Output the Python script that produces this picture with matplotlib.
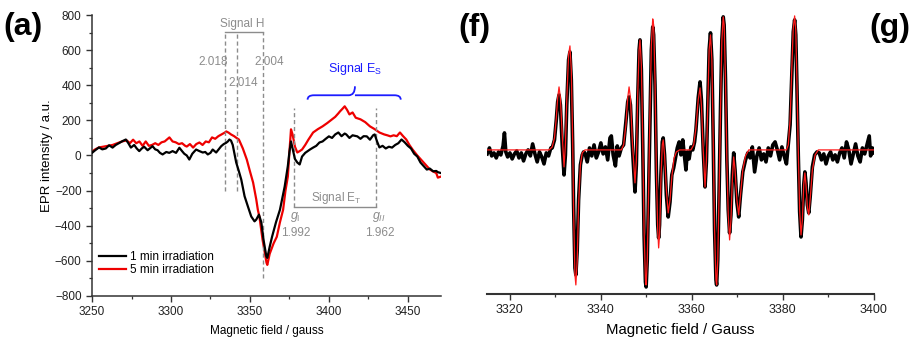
import matplotlib
matplotlib.use("Agg")
import matplotlib.pyplot as plt
from matplotlib.path import Path
from matplotlib.patches import PathPatch
from matplotlib.ticker import MultipleLocator

plt.rcParams['font.family'] = ['Liberation Sans', 'DejaVu Sans']
plt.rcParams['mathtext.fontset'] = 'custom'
plt.rcParams['mathtext.rm'] = 'Liberation Sans'
plt.rcParams['mathtext.it'] = 'Liberation Sans:italic'

#Panel (a) - EPR spectra after 1 and 5 min irradiation
field_1min = [3250, 3252, 3254.4, 3256.5, 3258.7, 3260.8, 3263, 3265, 3267, 3269.3, 3271.4, 3273, 3274.6, 3276.7,
              3278.3, 3279.9, 3281.5, 3283, 3285.2, 3288.3, 3290, 3291.5, 3293, 3294.7, 3297, 3298.9, 3301, 3303.2,
              3305.3, 3307, 3308.4, 3310, 3311.6, 3313.5, 3315.9, 3318, 3320.1, 3321.7, 3323.3, 3325, 3326.4, 3328.6,
              3330.2, 3331.8, 3333.4, 3334.9, 3336, 3337, 3338, 3339.1, 3341.3, 3343, 3344.5, 3346.6, 3348.7, 3350.8,
              3352.9, 3354, 3355.7, 3357.2, 3358.6, 3360.4, 3361, 3362.5, 3364, 3366.5, 3369, 3372, 3374, 3375, 3376,
              3377, 3378.5, 3380, 3381.5, 3383, 3385, 3388, 3390, 3392, 3394, 3396, 3398, 3400, 3402, 3404, 3406,
              3408, 3410, 3411, 3413, 3415, 3418, 3420, 3422, 3424, 3426, 3428, 3429, 3430.5, 3432, 3434, 3436, 3438,
              3440, 3442, 3444, 3446, 3448, 3450, 3452, 3454, 3456, 3458, 3460, 3462, 3464, 3466, 3468, 3469, 3471]
epr_1min = [15, 30, 46, 35, 40, 58, 45, 60, 70, 82, 91, 70, 45, 60,
            40, 25, 40, 50, 30, 53, 35, 30, 15, 6, 20, 15, 25, 15,
            44, 25, 10, 0, -23, 10, 34, 25, 17, 20, 6, 15, 34, 17,
            35, 53, 65, 72, 80, 91, 85, 60, -40, -90, -137, -232, -290, -347,
            -375, -365, -337, -380, -480, -575, -583, -520, -463, -380, -309, -177, -60, 20, 80,
            40, -20, -40, -51, -6, 15, 34, 45, 55, 74, 80, 95, 109, 100, 120, 131,
            110, 125, 120, 100, 115, 109, 95, 110, 109, 90, 115, 120, 80, 46, 55, 40, 50,
            45, 60, 70, 91, 75, 55, 40, 10, -6, -40, -60, -80, -75, -90, -88, -95, -100]

field_5min = [3250, 3252, 3254.4, 3257, 3260, 3263, 3266, 3269, 3272, 3274, 3276, 3278, 3280, 3282, 3284, 3286,
              3288, 3290, 3292, 3294, 3296, 3299, 3301, 3303, 3305, 3307, 3309, 3310, 3312, 3314, 3316, 3318,
              3320, 3322, 3324, 3326, 3328, 3330, 3332, 3334, 3335, 3336.5, 3338, 3340, 3341.5, 3343, 3345.5,
              3348, 3350, 3352, 3354, 3355, 3356, 3358, 3360.5, 3361, 3362.5, 3365, 3367, 3369, 3371, 3372.5,
              3374, 3375, 3376, 3377, 3378.5, 3380, 3381.5, 3383, 3385, 3387, 3390, 3393, 3396, 3399, 3402,
              3404, 3406, 3407, 3408.5, 3410, 3411.5, 3413, 3415, 3417, 3420, 3423, 3426, 3429, 3432, 3435,
              3437, 3439, 3441, 3443, 3445, 3447, 3449, 3451, 3453, 3456, 3458, 3460, 3462, 3464, 3466, 3468,
              3469, 3471]
epr_5min = [23, 35, 46, 50, 55, 60, 70, 80, 86, 70, 90, 70, 80, 55, 80, 55,
            60, 70, 60, 75, 80, 103, 80, 75, 65, 70, 55, 51, 65, 45, 65, 74,
            60, 80, 75, 103, 95, 110, 120, 130, 137, 130, 120, 110, 100, 91, 40,
            -23, -90, -154, -250, -309, -349, -480, -611, -623, -560, -500, -463, -380, -309, -200,
            -120, 20, 149, 120, 50, 17, 25, 34, 60, 90, 131, 150, 166, 185, 206,
            220, 240, 251, 265, 280, 260, 234, 245, 215, 206, 190, 166, 150, 131, 120,
            115, 109, 115, 110, 131, 110, 91, 60, 34, 0, -20, -40, -60, -80, -91, -100,
            -126, -120]

legend_labels = ['1 min irradiation', '5 min irradiation']

#g-value markers in panel (a)
signal_h_fields = [3334.5, 3341.5, 3358]
signal_h_g = ['2.018', '2.014', '2.004']
signal_et_fields = [3377.7, 3430]
signal_et_g = ['1.992', '1.962']

#Panel (f) - experimental spectrum (black), arbitrary units. One row per region of the spectrum
field_exp = [3315, 3315.5, 3316, 3316.5, 3317, 3317.5, 3318, 3318.5, 3318.8, 3319.1, 3319.5, 3320, 3320.5, 3321,
             3321.5, 3322, 3322.5, 3323, 3323.5, 3324, 3324.5, 3325, 3325.5, 3326, 3326.5, 3327, 3327.5, 3328,
             3328.5, 3329,
             3329.3, 3329.8, 3330.2, 3330.5, 3330.8, 3331.1, 3331.5, 3331.9, 3332.2, 3332.5, 3332.9, 3333.2, 3333.5,
             3333.8, 3334.0, 3334.3, 3334.5, 3334.8, 3335.1, 3335.5, 3335.9, 3336.2,
             3336.5, 3337, 3337.5, 3338, 3338.5, 3339, 3339.5, 3340, 3340.5, 3341, 3341.5, 3342, 3342.3, 3342.7,
             3343.2, 3343.6, 3344, 3344.5,
             3345, 3345.5, 3345.9, 3346.2, 3346.5, 3346.9, 3347.5, 3347.8, 3348.1, 3348.4, 3348.6, 3348.9, 3349.2,
             3349.5, 3349.8, 3349.95, 3350.2, 3350.5, 3350.8, 3351.1, 3351.4, 3351.6, 3351.9, 3352.2, 3352.5,
             3352.7, 3352.9, 3353.2, 3353.5, 3353.7, 3354.0, 3354.4, 3354.8, 3355.2, 3355.6, 3356,
             3356.4, 3356.8, 3357.2, 3357.6, 3358, 3358.3, 3358.7, 3359, 3359.4, 3359.8, 3360.2,
             3360.6, 3360.9, 3361.4, 3361.8, 3362.1, 3362.5, 3362.9, 3363.2, 3363.5, 3363.8, 3364.1, 3364.4, 3364.7,
             3365.0, 3365.3, 3365.45, 3365.7, 3366.0, 3366.3, 3366.6, 3366.9, 3367.1, 3367.4, 3367.7, 3368.0,
             3368.3, 3368.6, 3368.9, 3369.2, 3369.5, 3369.9, 3370.3, 3370.7, 3371.2, 3371.8, 3372.3,
             3372.8, 3373.3, 3373.8, 3374.3, 3374.8, 3375.3, 3375.8, 3376.3, 3376.8, 3377.3, 3377.8, 3378.3,
             3378.8, 3379.3, 3379.8, 3380.3, 3380.8,
             3381.2, 3381.6, 3382.0, 3382.3, 3382.6, 3382.85, 3383.1, 3383.4, 3383.7, 3384.0, 3384.3, 3384.6,
             3384.85, 3385.1, 3385.4, 3385.7, 3386.0, 3386.5, 3387, 3387.5,
             3388, 3388.5, 3389, 3389.5, 3390, 3390.5, 3391, 3391.5, 3392, 3392.5, 3393, 3393.5, 3394, 3394.5,
             3395, 3395.5, 3396, 3396.5, 3397, 3397.5, 3398, 3398.5, 3399, 3399.3, 3399.7, 3400]
signal_exp = [-4, 2, -6, -3, -8, -2, -5, 4, 17, -2, -7, -3, -9, -4,
              -1, -8, -3, -11, -4, 0, -6, 6, -4, -12, -2, -7, -14, -3,
              -6, 2,
              2, 10, 30, 48, 55, 45, 5, -25, -5, 45, 90, 98, 70,
              5, -55, -118, -125, -100, -50, -15, -5, -2,
              -3, -12, 2, -6, 5, -8, -2, 7, -4, 3, -10, 12, 14, -5,
              -16, 4, -6, 2,
              5, 28, 48, 53, 45, 5, -42, -15, 50, 100, 110, 80, 5,
              -85, -132, -137, -110, -40, 35, 100, 123, 115, 65, -20, -75,
              -88, -75, -25, 8, 12, -5, -45, -67, -52, -25, -18,
              -8, 2, 8, -5, 10, -3, -20, -2, -9, 3, 0,
              8, 20, 52, 68, 50, 0, -37, -12, 45, 100, 117, 90, 10,
              -80, -130, -135, -110, -40, 40, 110, 133, 125, 70, -10, -60,
              -83, -65, -25, -3, -20, -52, -67, -45, -22, -10, -3,
              -8, 3, -22, -6, 2, -10, -4, -12, 2, -6, 5, 8,
              0, -10, 3, -6, -14,
              5, 25, 80, 118, 130, 115, 65, -5, -62, -87, -70, -35,
              -22, -33, -55, -63, -48, -17, -5, -2,
              -3, -10, -4, -14, -6, -2, -10, -5, -12, -3, 2, -8, 8, 0,
              -14, -4, 6, -6, -12, 2, -4, 5, 14, -6, 2, -3]

#Panel (f) - simulated spectrum (red)
field_sim = [3315, 3328.6, 3329.3, 3329.8, 3330.2, 3330.5, 3330.8, 3331.1, 3331.5, 3331.9, 3332.2, 3332.5,
             3332.9, 3333.2, 3333.5, 3333.8, 3334.0, 3334.3, 3334.5, 3334.8, 3335.1, 3335.5, 3335.9, 3336.5,
             3344.5, 3345.0, 3345.5, 3345.9, 3346.2, 3346.5, 3346.9, 3347.5, 3347.8, 3348.1, 3348.4, 3348.6,
             3348.9, 3349.2, 3349.5, 3349.8, 3349.95, 3350.2, 3350.5, 3350.8, 3351.1, 3351.4, 3351.6, 3351.9,
             3352.2, 3352.5, 3352.7, 3352.9, 3353.2, 3353.5, 3353.7, 3354.0, 3354.4, 3354.8, 3355.2, 3355.6,
             3356.1, 3356.6, 3357.3,
             3359.8, 3360.4, 3360.9, 3361.4, 3361.8, 3362.1, 3362.5, 3362.9, 3363.2, 3363.5, 3363.8, 3364.1,
             3364.4, 3364.7, 3365.0, 3365.3, 3365.45, 3365.7, 3366.0, 3366.3, 3366.6, 3366.9, 3367.1, 3367.4,
             3367.7, 3368.0, 3368.3, 3368.6, 3368.9, 3369.2, 3369.5, 3369.9, 3370.3, 3370.7, 3371.2, 3371.8,
             3372.5,
             3380.8, 3381.2, 3381.6, 3382.0, 3382.3, 3382.6, 3382.85, 3383.1, 3383.4, 3383.7, 3384.0, 3384.3,
             3384.6, 3384.85, 3385.1, 3385.4, 3385.7, 3386.0, 3386.5, 3387.1, 3387.8, 3400]
signal_sim = [0, 0, 3, 12, 32, 52, 63, 52, 15, -17, 5, 50,
              95, 104, 80, 10, -60, -125, -135, -110, -55, -15, -3, 0,
              0, 5, 25, 52, 63, 52, 10, -33, -10, 55, 100, 110,
              85, 10, -80, -130, -135, -110, -40, 40, 105, 131, 125, 70,
              -20, -80, -98, -85, -30, 5, 10, -5, -40, -63, -50, -27,
              -8, -2, 0,
              0, 5, 22, 50, 62, 45, 0, -37, -10, 45, 100, 115,
              90, 10, -80, -130, -135, -110, -40, 40, 110, 133, 125, 70,
              -10, -65, -90, -70, -30, -7, -20, -50, -65, -45, -20, -6,
              0,
              0, 5, 30, 85, 122, 134, 120, 70, 0, -60, -85, -70,
              -35, -23, -35, -58, -65, -50, -20, -5, 0, 0]

grey = '#8c8c8c'
blue = '#1c1cff'


#Sets up spines and ticks so they look like the original Origin plots
def styleAxis(ax, fs):
    ax.spines['top'].set_visible(False)
    ax.spines['right'].set_visible(False)
    for s in ax.spines.values():
        s.set_linewidth(1.1)
        s.set_color('#333333')
    ax.tick_params(which='major', direction='out', length=4, width=1, colors='#333333', labelsize=fs,
                   labelcolor='#222222')
    ax.tick_params(which='minor', direction='out', length=2.5, width=0.9, colors='#333333')


fig = plt.figure(figsize=(9.14, 3.41), dpi=100)

#PANEL (a)
ax = fig.add_axes([0.1007, 0.132, 0.3818, 0.824])
ax.plot(field_1min, epr_1min, color='black', lw=1.6, label=legend_labels[0], zorder=3)
ax.plot(field_5min, epr_5min, color='#ee0000', lw=1.6, label=legend_labels[1], zorder=2)
ax.set_xlim(3250, 3471)
ax.set_ylim(-800, 800)
ax.xaxis.set_major_locator(MultipleLocator(50))
ax.xaxis.set_minor_locator(MultipleLocator(25))
ax.yaxis.set_major_locator(MultipleLocator(200))
ax.yaxis.set_minor_locator(MultipleLocator(100))
styleAxis(ax, 8.5)
ax.set_xlabel('Magnetic field / gauss', fontsize=8.5, labelpad=5)
ax.set_ylabel('EPR intensity / a.u.', fontsize=9.5, labelpad=1)
ax.legend(loc='lower left', bbox_to_anchor=(-0.005, 0.04), frameon=False, fontsize=8.5, handlelength=2.3,
          handletextpad=0.4, labelspacing=0.15, borderpad=0.2)

#Signal H - dashed lines, bracket and g-values
bracket_h = 703
ax.plot([signal_h_fields[0], signal_h_fields[2]], [bracket_h, bracket_h], color=grey, lw=1)
ax.vlines(signal_h_fields[:2], -200, bracket_h, colors=grey, linestyles=(0, (3, 2)), lw=1)
ax.vlines(signal_h_fields[2], -700, bracket_h, colors=grey, linestyles=(0, (3, 2)), lw=1)
ax.text(3345, 748, 'Signal H', color=grey, fontsize=8.5, ha='center', va='center')
ax.text(signal_h_fields[0] + 1.5, 531, signal_h_g[0], color=grey, fontsize=8.5, ha='right', va='center')
ax.text(3346, 411, signal_h_g[1], color=grey, fontsize=8.5, ha='center', va='center')
ax.text(3362.5, 531, signal_h_g[2], color=grey, fontsize=8.5, ha='center', va='center')

#Signal E_T
bracket_t = -291
ax.plot(signal_et_fields, [bracket_t, bracket_t], color=grey, lw=1)
ax.vlines(signal_et_fields, bracket_t, 268, colors=grey, linestyles=(0, (3, 2)), lw=1)
ax.text(3405, -240, 'Signal E$_\\mathrm{T}$', color=grey, fontsize=8.5, ha='center', va='center')
ax.text(signal_et_fields[0] + 1, -349, '$g_\\mathrm{I}$', color=grey, fontsize=9, ha='center', va='center')
ax.text(signal_et_fields[1] + 1.5, -349, '$g_{II}$', color=grey, fontsize=9, ha='center', va='center')
ax.text(signal_et_fields[0] + 1, -440, signal_et_g[0], color=grey, fontsize=8.5, ha='center', va='center')
ax.text(signal_et_fields[1] + 2.5, -440, signal_et_g[1], color=grey, fontsize=8.5, ha='center', va='center')

#Signal E_S - curly brace drawn as a path
x0, xm, x1 = 3386.5, 3416.5, 3445.5
yb, yh, yt = 318, 343, 394
verts = [(x0, yb), (x0, yh), (x0 + 4, yh), (xm - 4, yh), (xm, yh), (xm, yt),
         (xm, yh), (xm + 4, yh), (x1 - 4, yh), (x1, yh), (x1, yb)]
codes = [Path.MOVETO, Path.CURVE3, Path.CURVE3, Path.LINETO, Path.CURVE3, Path.CURVE3,
         Path.MOVETO, Path.CURVE3, Path.LINETO, Path.CURVE3, Path.CURVE3]
ax.add_patch(PathPatch(Path(verts, codes), fill=False, edgecolor=blue, lw=1.3))
ax.text(xm, 491, 'Signal E$_\\mathrm{S}$', color=blue, fontsize=9, ha='center', va='center')

#PANEL (f)
bx = fig.add_axes([0.533, 0.138, 0.423, 0.833])
bx.plot(field_exp, signal_exp, color='black', lw=2.6, zorder=2)
bx.plot(field_sim, signal_sim, color='#ff1a1a', lw=0.9, zorder=3)
bx.set_xlim(3315, 3400)
bx.set_ylim(-144, 140)
bx.xaxis.set_major_locator(MultipleLocator(20))
bx.xaxis.set_minor_locator(MultipleLocator(10))
styleAxis(bx, 9)
bx.spines['left'].set_visible(False)
bx.spines['bottom'].set_linewidth(1.5)
bx.set_yticks([])
bx.set_xlabel('Magnetic field / Gauss', fontsize=10.8, labelpad=5)

#Panel letters
fig.text(0.004, 0.922, '(a)', fontsize=23, fontweight='bold', ha='left', va='center')
fig.text(0.502, 0.918, '(f)', fontsize=23, fontweight='bold', ha='left', va='center')
fig.text(0.951, 0.918, '(g)', fontsize=23, fontweight='bold', ha='left', va='center')

fig.savefig('out.png', dpi=100)
